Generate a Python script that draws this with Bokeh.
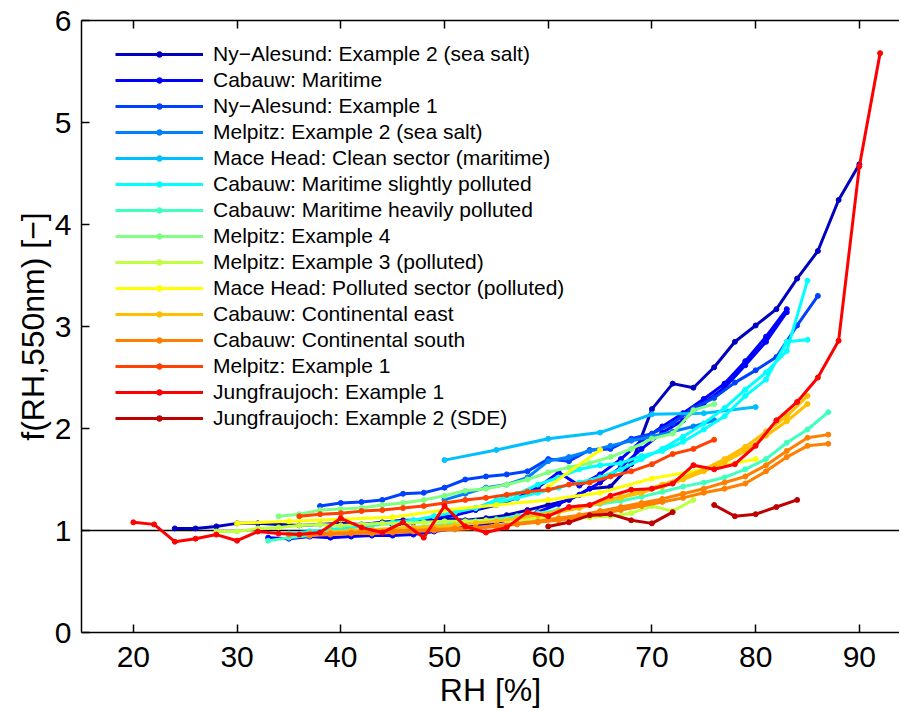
from bokeh.plotting import figure
from bokeh.models import Range1d, LinearAxis, FixedTicker, Legend, LegendItem, Span
from bokeh.embed import file_html
from bokeh.resources import INLINE

nan = float("nan")

# ---------------- data ----------------
labels = [
    "Ny\u2212Alesund: Example 2 (sea salt)",
    "Cabauw: Maritime",
    "Ny\u2212Alesund: Example 1",
    "Melpitz: Example 2 (sea salt)",
    "Mace Head: Clean sector (maritime)",
    "Cabauw: Maritime slightly polluted",
    "Cabauw: Maritime heavily polluted",
    "Melpitz: Example 4",
    "Melpitz: Example 3 (polluted)",
    "Mace Head: Polluted sector (polluted)",
    "Cabauw: Continental east",
    "Cabauw: Continental south",
    "Melpitz: Example 1",
    "Jungfraujoch: Example 1",
    "Jungfraujoch: Example 2 (SDE)",
]

colors = ["#0000BF", "#0000FF", "#0040FF", "#0080FF", "#00BFFF", "#00FFFF",
          "#40FFBF", "#80FF80", "#BFFF40", "#FFFF00", "#FFBF00", "#FF8000",
          "#FF4000", "#FF0000", "#BF0000"]

# Ny-Alesund Example 2
rh_nya2 = list(range(24, 91, 2))
f_nya2 = [1.02, 1.02, 1.04, 1.07, 1.07, 1.06, 1.05, 1.06, 1.07, 1.06, 1.08, 1.10,
          1.10, 1.12, 1.10, 1.12, 1.15, 1.20, 1.25, 1.30, 1.41, 1.43, 1.65, 2.19,
          2.44, 2.40, 2.60, 2.85, 3.01, 3.17, 3.47, 3.74, 4.24, 4.59]

# Cabauw Maritime (two cases)
rh_cabm = list(range(33, 84, 2)) + [nan] + list(range(45, 84, 2))
f_cabm = [0.93, 0.92, 0.94, 0.93, 0.94, 0.95, 0.95, 0.96, 0.99, 1.02, 1.05, 1.08,
          1.12, 1.18, 1.26, 1.35, 1.47, 1.62, 1.80, 1.96, 2.08, 2.25, 2.40, 2.62,
          2.85, 3.14] + [nan] + \
         [1.05, 1.08, 1.12, 1.15, 1.20, 1.25, 1.32, 1.42, 1.57, 1.44, 1.55, 1.70,
          1.88, 2.02, 2.15, 2.29, 2.44, 2.66, 2.90, 3.17]

# Ny-Alesund Example 1
rh_nya1 = list(range(38, 87, 2))
f_nya1 = [1.24, 1.27, 1.28, 1.30, 1.36, 1.37, 1.42, 1.50, 1.53, 1.55, 1.58, 1.70,
          1.68, 1.79, 1.80, 1.90, 1.95, 2.05, 2.20, 2.30, 2.45, 2.57, 2.70, 3.01, 3.30]

# Melpitz Example 2
rh_mel2 = list(range(50, 77, 2))
f_mel2 = [1.30, 1.36, 1.42, 1.45, 1.52, 1.68, 1.72, 1.78, 1.83, 1.88, 1.92, 1.97,
          2.02, 2.08]

# Mace Head clean
rh_mhc = list(range(50, 81, 5))
f_mhc = [1.69, 1.79, 1.90, 1.96, 2.14, 2.15, 2.21]

# Cabauw Maritime slightly polluted (two cases)
rh_cabs = list(range(35, 86, 2)) + [nan] + list(range(37, 86, 2))
f_cabs = [0.97, 0.99, 1.01, 1.03, 1.05, 1.07, 1.10, 1.14, 1.18, 1.22, 1.27, 1.32,
          1.37, 1.42, 1.47, 1.52, 1.60, 1.70, 1.80, 1.92, 2.05, 2.20, 2.38, 2.55,
          2.76, 3.45] + [nan] + \
         [0.99, 1.01, 1.03, 1.05, 1.08, 1.10, 1.14, 1.18, 1.22, 1.30, 1.36, 1.45,
          1.52, 1.60, 1.64, 1.66, 1.73, 1.78, 1.87, 1.99, 2.12, 2.32, 2.48, 2.85, 2.87]

# Cabauw Maritime heavily polluted
rh_cabh = list(range(33, 88, 2))
f_cabh = [0.90, 0.93, 0.95, 0.97, 0.99, 1.00, 1.02, 1.03, 1.05, 1.07, 1.09, 1.11,
          1.14, 1.17, 1.20, 1.23, 1.26, 1.29, 1.33, 1.38, 1.43, 1.47, 1.52, 1.60,
          1.70, 1.86, 1.99, 2.16]

# Melpitz Example 4
rh_mel4 = list(range(34, 77, 2))
f_mel4 = [1.14, 1.16, 1.20, 1.21, 1.22, 1.25, 1.27, 1.30, 1.34, 1.39, 1.41, 1.45,
          1.50, 1.57, 1.62, 1.66, 1.72, 1.80, 1.90, 1.95, 2.18, 2.24]

# Melpitz Example 3
rh_mel3 = list(range(28, 75, 2))
f_mel3 = [0.99, 0.99, 1.02, 1.03, 1.05, 1.06, 1.05, 1.06, 1.07, 1.07, 1.08, 1.09,
          1.09, 1.10, 1.10, 1.11, 1.12, 1.12, 1.13, 1.14, 1.17, 1.24, 1.19, 1.30]

# Mace Head polluted
rh_mhp = list(range(30, 81, 5)) + [nan, 60, 65]
f_mhp = [1.07, 1.09, 1.11, 1.13, 1.20, 1.25, 1.30, 1.37, 1.51, 1.60, 1.70,
         nan, 1.43, 1.79]

# Cabauw Continental east (two cases)
rh_cabe = list(range(37, 86, 2)) + [nan] + list(range(39, 86, 2))
f_cabe = [0.97, 0.98, 0.99, 1.00, 1.01, 1.02, 1.03, 1.05, 1.07, 1.09, 1.12, 1.15,
          1.19, 1.23, 1.28, 1.33, 1.39, 1.45, 1.52, 1.60, 1.70, 1.82, 1.97, 2.12,
          2.32] + [nan] + \
         [0.99, 1.00, 1.01, 1.02, 1.03, 1.04, 1.05, 1.07, 1.09, 1.12, 1.15, 1.18,
          1.22, 1.27, 1.32, 1.37, 1.43, 1.50, 1.58, 1.67, 1.78, 1.93, 2.07, 2.24]

# Cabauw Continental south (two cases)
rh_cabso = list(range(35, 88, 2)) + [nan] + list(range(37, 88, 2))
f_cabso = [0.96, 0.97, 0.97, 0.98, 0.99, 1.00, 1.00, 1.01, 1.02, 1.03, 1.05, 1.07,
           1.09, 1.12, 1.15, 1.19, 1.23, 1.27, 1.31, 1.36, 1.41, 1.47, 1.53, 1.64,
           1.78, 1.91, 1.94] + [nan] + \
          [0.95, 0.96, 0.97, 0.97, 0.98, 0.99, 1.00, 1.01, 1.02, 1.04, 1.06, 1.08,
           1.10, 1.13, 1.16, 1.20, 1.24, 1.28, 1.32, 1.37, 1.41, 1.46, 1.58, 1.72,
           1.83, 1.85]

# Melpitz Example 1
rh_mel1 = list(range(36, 77, 2))
f_mel1 = [1.14, 1.16, 1.17, 1.19, 1.20, 1.22, 1.24, 1.27, 1.30, 1.32, 1.35, 1.38,
          1.40, 1.45, 1.47, 1.53, 1.58, 1.65, 1.75, 1.80, 1.89]

# Jungfraujoch Example 1
rh_jf1 = list(range(20, 93, 2))
f_jf1 = [1.08, 1.06, 0.89, 0.92, 0.96, 0.90, 0.99, 0.97, 0.96, 0.98, 1.12, 1.03,
         0.98, 1.08, 0.93, 1.24, 1.04, 0.98, 1.03, 1.18, 1.14, 1.23, 1.25, 1.34,
         1.40, 1.41, 1.46, 1.64, 1.60, 1.65, 1.83, 2.08, 2.26, 2.50, 2.86, 4.57, 5.68]

# Jungfraujoch Example 2 (SDE)
rh_jf2 = [60, 62, 64, 66, 68, 70, 72, nan, 76, 78, 80, 82, 84]
f_jf2 = [1.04, 1.08, 1.15, 1.16, 1.10, 1.07, 1.18, nan, 1.25, 1.14, 1.16, 1.23, 1.30]

series_rh = [rh_nya2, rh_cabm, rh_nya1, rh_mel2, rh_mhc, rh_cabs, rh_cabh, rh_mel4,
             rh_mel3, rh_mhp, rh_cabe, rh_cabso, rh_mel1, rh_jf1, rh_jf2]
series_f = [f_nya2, f_cabm, f_nya1, f_mel2, f_mhc, f_cabs, f_cabh, f_mel4,
            f_mel3, f_mhp, f_cabe, f_cabso, f_mel1, f_jf1, f_jf2]

x_ticks = [20, 30, 40, 50, 60, 70, 80, 90]
y_ticks = [0, 1, 2, 3, 4, 5, 6]
ref_level = 1

# ---------------- figure ----------------
FONT = "Liberation Sans"
p = figure(frame_width=818, frame_height=612,
           x_range=Range1d(15, 93.87), y_range=Range1d(0, 6),
           min_border_left=81, min_border_right=0, min_border_top=20, min_border_bottom=71,
           output_backend="svg", toolbar_location=None,
           x_axis_label="RH [%]", y_axis_label="f(RH,550nm) [\u2212]")
p.outline_line_color = None
p.grid.visible = False
p.background_fill_color = "white"
p.border_fill_color = "white"

p.add_layout(Span(location=ref_level, dimension="width", line_color="black",
                  line_width=1.5, level="underlay"))

items = []
for lab, col, xs, ys in zip(labels, colors, series_rh, series_f):
    lr = p.line(xs, ys, line_color=col, line_width=3)
    sr = p.scatter(xs, ys, marker="circle", size=5, fill_color=col, line_color=col)
    items.append(LegendItem(label=lab, renderers=[lr, sr]))

for ax, ticks in ((p.xaxis[0], x_ticks), (p.yaxis[0], y_ticks)):
    ax.ticker = FixedTicker(ticks=ticks)
    ax.major_tick_in = 8
    ax.major_tick_out = 0
    ax.minor_tick_in = 0
    ax.minor_tick_out = 0
    ax.axis_line_width = 1.5
    ax.axis_line_color = "black"
    ax.major_tick_line_width = 1.5
    ax.major_tick_line_color = "black"
    ax.major_label_text_font = FONT
    ax.major_label_text_font_size = "30px"
    ax.major_label_text_color = "black"
    ax.axis_label_text_font = FONT
    ax.axis_label_text_font_size = "32px"
    ax.axis_label_text_font_style = "normal"
    ax.axis_label_text_color = "black"
p.xaxis[0].major_label_standoff = 14
p.xaxis[0].axis_label_standoff = 2
p.yaxis[0].major_label_standoff = 10
p.yaxis[0].axis_label_standoff = 1

top = LinearAxis(ticker=FixedTicker(ticks=x_ticks), major_tick_in=8, major_tick_out=0,
                 minor_tick_in=0, minor_tick_out=0, axis_line_width=1.5,
                 major_tick_line_width=1.5,
                 major_label_overrides={t: "" for t in x_ticks},
                 major_label_standoff=0)
p.add_layout(top, "above")

legend = Legend(items=items, location=(34, 201), padding=0, margin=0, spacing=0,
                glyph_width=88, glyph_height=14, label_height=26, label_standoff=10,
                label_text_font=FONT, label_text_font_size="21px",
                label_text_color="black", border_line_alpha=0,
                background_fill_alpha=0)
p.add_layout(legend)

open("out.html", "w").write(file_html(p, INLINE))
